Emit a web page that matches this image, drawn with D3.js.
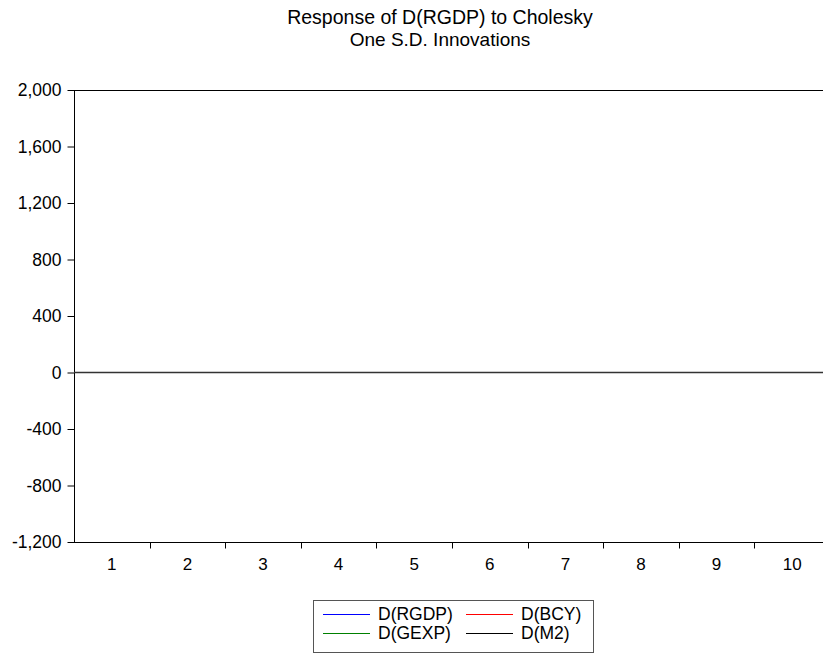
<!DOCTYPE html>
<meta charset="utf-8">
<style>
body { margin: 0; background: #fff; }
text { font-family: "Liberation Sans", Arial, sans-serif; fill: #000; }
</style>
<svg width="823" height="654"></svg>
<script src="https://d3js.org/d3.v7.min.js"></script>
<script>

// periods and impulse responses (all flat at zero in the picture)
var periods = [1, 2, 3, 4, 5, 6, 7, 8, 9, 10];
var rgdp = [0, 0, 0, 0, 0, 0, 0, 0, 0, 0];
var bcy  = [0, 0, 0, 0, 0, 0, 0, 0, 0, 0];
var gexp = [0, 0, 0, 0, 0, 0, 0, 0, 0, 0];
var m2   = [0, 0, 0, 0, 0, 0, 0, 0, 0, 0];
var yTicks = [-1200, -800, -400, 0, 400, 800, 1200, 1600, 2000];
var seriesNames = ["D(RGDP)", "D(BCY)", "D(GEXP)", "D(M2)"];
var seriesColors = ["#0000ff", "#ff0000", "#008000", "#000000"];

var svg = d3.select("svg");

var plotLeft = 74, plotRight = 830, plotTop = 90, plotBottom = 542;

var x = d3.scaleBand().domain(periods).range([plotLeft, plotRight]);
var y = d3.scaleLinear().domain([-1200, 2000]).range([plotBottom, plotTop]);

// title
svg.append("text")
   .attr("x", 440).attr("y", 24)
   .attr("text-anchor", "middle")
   .attr("font-size", "19.5px")
   .text("Response of D(RGDP) to Cholesky");
svg.append("text")
   .attr("x", 440).attr("y", 46)
   .attr("text-anchor", "middle")
   .attr("font-size", "19px")
   .text("One S.D. Innovations");

// frame top
svg.append("line")
   .attr("x1", plotLeft).attr("x2", plotRight)
   .attr("y1", plotTop + 0.5).attr("y2", plotTop + 0.5)
   .attr("stroke", "#000");

// y axis (plain hyphen for negatives)
var fmt = d3.format(",");
var yAxis = svg.append("g")
   .attr("transform", "translate(" + (plotLeft + 0.5) + ",0)")
   .call(d3.axisLeft(y).tickValues(yTicks).tickSize(7).tickPadding(6)
     .tickFormat(function(d) { return fmt(d).replace("\u2212", "-"); }));
yAxis.select(".domain").attr("stroke", "#000").attr("d", "M0," + plotTop + "V" + plotBottom);
yAxis.selectAll("text").attr("font-size", "17.5px").attr("font-family", null);

// x axis, ticks between categories
var xAxis = svg.append("g")
   .attr("transform", "translate(0," + (plotBottom + 0.5) + ")");
xAxis.append("line")
   .attr("x1", plotLeft).attr("x2", plotRight)
   .attr("stroke", "#000");
xAxis.selectAll(".tk")
   .data(periods.slice(1))
   .enter().append("line")
   .attr("x1", function(d) { return Math.round(x(d)) + 0.5; })
   .attr("x2", function(d) { return Math.round(x(d)) + 0.5; })
   .attr("y1", 0).attr("y2", 6)
   .attr("stroke", "#000");
xAxis.selectAll(".lbl")
   .data(periods)
   .enter().append("text")
   .attr("x", function(d) { return x(d) + x.bandwidth() / 2; })
   .attr("y", 27)
   .attr("text-anchor", "middle")
   .attr("font-size", "17px")
   .text(function(d) { return d; });

// response lines
var line = d3.line()
   .x(function(d, i) { return x(periods[i]) + x.bandwidth() / 2; })
   .y(function(d) { return y(d); });
[rgdp, bcy, gexp, m2].forEach(function(s, i) {
  svg.append("path")
     .datum(s)
     .attr("fill", "none")
     .attr("stroke", seriesColors[i])
     .attr("stroke-width", 1)
     .attr("d", line);
});
// zero line on top, as in the picture
svg.append("line")
   .attr("x1", plotLeft).attr("x2", plotRight)
   .attr("y1", y(0)).attr("y2", y(0))
   .attr("stroke", "#333").attr("stroke-width", 1.6);

// legend
var lg = svg.append("g").attr("transform", "translate(313,600)");
lg.append("rect")
  .attr("x", 0.5).attr("y", 0.5)
  .attr("width", 280).attr("height", 52)
  .attr("fill", "#fff").attr("stroke", "#555");
seriesNames.forEach(function(name, i) {
  var col = i % 2, row = Math.floor(i / 2);
  var gx = 10 + col * 143, gy = 14 + row * 19;
  lg.append("line")
    .attr("x1", gx).attr("x2", gx + 47)
    .attr("y1", gy + 0.5).attr("y2", gy + 0.5)
    .attr("stroke", seriesColors[i]);
  lg.append("text")
    .attr("x", gx + 55).attr("y", gy + 6)
    .attr("font-size", "17.5px")
    .text(name);
});

</script>
